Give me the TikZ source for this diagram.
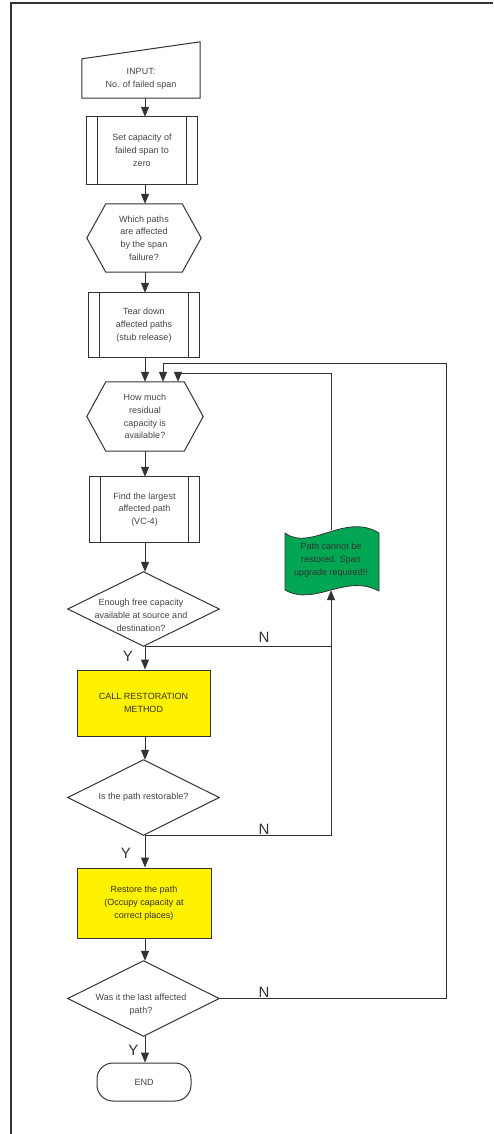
\documentclass[tikz,border=0pt]{standalone}
\usepackage{fontspec}
\setmainfont{Liberation Sans}
\usetikzlibrary{arrows.meta,calc}
\definecolor{lncol}{HTML}{333333}
\definecolor{txcol}{HTML}{444444}
\definecolor{yelcol}{HTML}{FFF200}
\definecolor{grncol}{HTML}{00A651}
\newcommand\mypredef[1]{\draw[wire] (#1.south west) rectangle (#1.north east)
  ($(#1.north west)+(11,0)$) -- ($(#1.south west)+(11,0)$)
  ($(#1.north east)+(-11,0)$) -- ($(#1.south east)+(-11,0)$);}
\newcommand\myhex[1]{\draw[wire] (#1.west) -- ($(#1.north west)+(19,0)$) -- ($(#1.north east)+(-19,0)$)
  -- (#1.east) -- ($(#1.south east)+(-19,0)$) -- ($(#1.south west)+(19,0)$) -- cycle;}
\newcommand\mydiam[1]{\draw[wire] (#1.west) -- (#1.north) -- (#1.east) -- (#1.south) -- cycle;}
\begin{document}
\begin{tikzpicture}[x=1pt,y=-1pt,
  shapebox/.style={inner sep=0pt, align=center, font=\fontsize{9}{12.8}\selectfont, text=txcol},
  wire/.style={draw=lncol, line width=1pt},
  arr/.style={wire, -{Triangle[length=10pt,width=8pt]}},
  lbl/.style={font=\fontsize{15}{15}\selectfont, text=lncol, inner sep=0pt},
  yelbox/.style={shapebox, text=lncol, fill=yelcol, draw=lncol, line width=1pt}
]
\useasboundingbox (0,0) rectangle (493,1134);
\draw[lncol, line width=1.4pt] (11,1134) -- (11,3) -- (493,3);
\coordinate (col) at (145,0);

% input
\node[shapebox, minimum width=118, minimum height=39] (in) at (141,78.5) {INPUT:\\No. of failed span};
\draw[wire] (in.south west) -- (in.north west) -- ($(in.north east)+(0,-17)$) -- (in.south east) -- cycle;

\node[shapebox, minimum width=110, minimum height=67] (p1) at (142,150.5) {Set capacity of\\failed span to\\zero};
\mypredef{p1}

\node[shapebox, minimum width=114, minimum height=68] (h1) at (144,238) {Which paths\\are affected\\by the span\\failure?};
\myhex{h1}

\node[shapebox, minimum width=110, minimum height=64] (p2) at (144,325) {Tear down\\affected paths\\(stub release)};
\mypredef{p2}

\node[shapebox, minimum width=116, minimum height=69] (h2) at (145,416.5) {How much\\residual\\capacity is\\available?};
\myhex{h2}

\node[shapebox, minimum width=109, minimum height=65] (p3) at (144.5,509.5) {Find the largest\\affected path\\(VC-4)};
\mypredef{p3}

\node[shapebox, minimum width=151, minimum height=74] (d1) at (143.5,609) {};
\mydiam{d1}
\node[shapebox] (d1t) at (141,615.5) {Enough free capacity\\available at source and\\destination?};

\node[yelbox, minimum width=133, minimum height=66] (y1) at (143.5,703) {CALL RESTORATION\\METHOD};

\node[shapebox, minimum width=151, minimum height=75] (d2) at (143.5,797.5) {Is the path restorable?};
\mydiam{d2}

\node[yelbox, minimum width=134, minimum height=70] (y2) at (144,903) {Restore the path\\(Occupy capacity at\\correct places)};

\node[shapebox, minimum width=151, minimum height=75] (d3) at (143.5,998.5) {};
\mydiam{d3}
\node[shapebox] (d3t) at (141,1005) {Was it the last affected\\path?};

\node[shapebox, draw=lncol, line width=1pt, rounded corners=16pt, minimum width=94, minimum height=38] (end) at (144,1082) {END};

% green document shape
\fill[grncol, draw=lncol, line width=0.8pt] (285,533) .. controls (310,552) and (345,512) .. (379,533)
  -- (379,591) .. controls (345,573) and (315,607) .. (285,590) -- cycle;
\node[shapebox, text=black!80, minimum width=94, minimum height=60] (gr) at (331,560) {Path cannot be\\restored. Span\\upgrade required!!};

% main arrows
\draw[arr] (in.south -| col) -- (p1.north -| col);
\draw[arr] (p1.south -| col) -- (h1.north -| col);
\draw[arr] (h1.south -| col) -- (p2.north -| col);
\draw[arr] (p2.south -| col) -- (h2.north -| col);
\draw[arr] (h2.south -| col) -- (p3.north -| col);
\draw[arr] (p3.south -| col) -- (d1.north -| col);
\draw[arr] (d1.south -| col) -- (y1.north -| col);
\draw[arr] (y1.south -| col) -- (d2.north -| col);
\draw[arr] (d2.south -| col) -- (y2.north -| col);
\draw[arr] (y2.south -| col) -- (d3.north -| col);
\draw[arr] (d3.south -| col) -- (end.north -| col);

% loops
\coordinate (in1) at (163,363);
\coordinate (in2) at (178,373);
\coordinate (rt) at (446,363);
\draw[arr] (d1.south -| col) -- (d1.south -| gr.south) -- (gr.south);
\draw[wire] (d2.south -| col) -| (d1.south -| gr.south);
\draw[arr] (gr.north) |- (in2) -- (in2 |- h2.north);
\draw[arr] (d3.east) -| (rt) -- (in1) -- (in1 |- h2.north);

% labels
\node[lbl] (n1) at (264,637) {N};
\node[lbl] (n2) at (264,829) {N};
\node[lbl] (n3) at (264,992) {N};
\node[lbl] (ya) at (128,656) {Y};
\node[lbl] (yb) at (126,853) {Y};
\node[lbl] (yc) at (133.5,1050) {Y};
\end{tikzpicture}
\end{document}
